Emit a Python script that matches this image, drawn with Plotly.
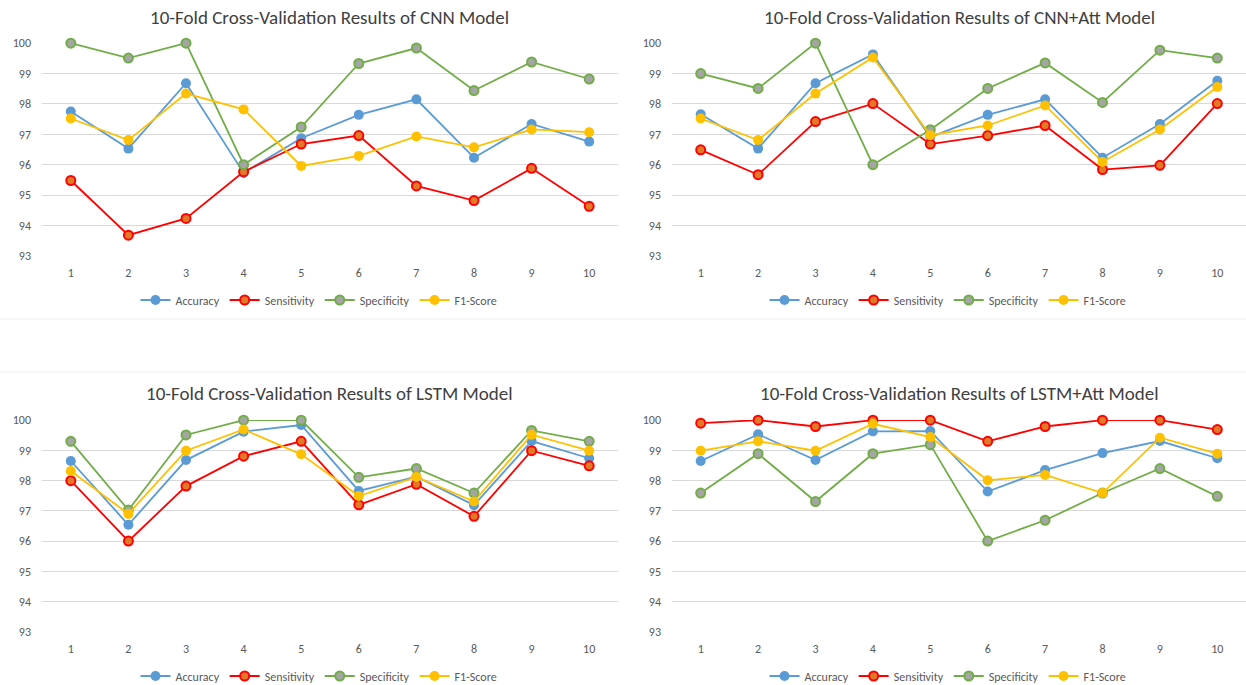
import plotly.graph_objects as go

folds = [1, 2, 3, 4, 5, 6, 7, 8, 9, 10]
metric_names = ["Accuracy", "Sensitivity", "Specificity", "F1-Score"]

titles = [
    "10-Fold Cross-Validation Results of CNN Model",
    "10-Fold Cross-Validation Results of CNN+Att Model",
    "10-Fold Cross-Validation Results of LSTM Model",
    "10-Fold Cross-Validation Results of LSTM+Att Model",
]

# CNN
cnn_accuracy = [97.75, 96.53, 98.68, 95.73, 96.87, 97.64, 98.15, 96.23, 97.34, 96.76]
cnn_sensitivity = [95.48, 93.68, 94.23, 95.77, 96.68, 96.96, 95.30, 94.82, 95.88, 94.63]
cnn_specificity = [100.0, 99.51, 100.0, 96.0, 97.24, 99.33, 99.84, 98.44, 99.38, 98.82]
cnn_f1 = [97.52, 96.81, 98.34, 97.82, 95.96, 96.29, 96.93, 96.57, 97.16, 97.07]

# CNN+Att
cnnatt_accuracy = [97.66, 96.53, 98.68, 99.63, 96.91, 97.64, 98.15, 96.23, 97.34, 98.76]
cnnatt_sensitivity = [96.49, 95.67, 97.42, 98.01, 96.68, 96.96, 97.29, 95.84, 95.98, 98.01]
cnnatt_specificity = [99.0, 98.51, 100.0, 96.0, 97.15, 98.51, 99.35, 98.05, 99.77, 99.51]
cnnatt_f1 = [97.52, 96.81, 98.34, 99.53, 96.97, 97.29, 97.95, 96.09, 97.16, 98.56]

# LSTM
lstm_accuracy = [98.65, 96.54, 98.68, 99.62, 99.84, 97.66, 98.13, 97.19, 99.31, 98.74]
lstm_sensitivity = [98.0, 96.0, 97.82, 98.81, 99.30, 97.20, 97.88, 96.82, 98.99, 98.49]
lstm_specificity = [99.30, 97.03, 99.51, 100.0, 100.0, 98.11, 98.40, 97.59, 99.66, 99.30]
lstm_f1 = [98.32, 96.90, 98.99, 99.69, 98.87, 97.49, 98.12, 97.31, 99.52, 98.99]

# LSTM+Att
lstmatt_accuracy = [98.65, 99.53, 98.68, 99.63, 99.64, 97.64, 98.35, 98.91, 99.31, 98.74]
lstmatt_sensitivity = [99.90, 100.0, 99.79, 100.0, 100.0, 99.30, 99.79, 100.0, 100.0, 99.69]
lstmatt_specificity = [97.59, 98.89, 97.31, 98.89, 99.19, 96.0, 96.69, 97.59, 98.40, 97.48]
lstmatt_f1 = [98.99, 99.30, 98.99, 99.88, 99.44, 98.01, 98.19, 97.59, 99.42, 98.89]

y_ticks = [93, 94, 95, 96, 97, 98, 99, 100]

panels = [
    [cnn_accuracy, cnn_sensitivity, cnn_specificity, cnn_f1],
    [cnnatt_accuracy, cnnatt_sensitivity, cnnatt_specificity, cnnatt_f1],
    [lstm_accuracy, lstm_sensitivity, lstm_specificity, lstm_f1],
    [lstmatt_accuracy, lstmatt_sensitivity, lstmatt_specificity, lstmatt_f1],
]

W, H = 1246, 685
line_colors = ["#5B9BD5", "#FF0000", "#70AD47", "#FFC000"]
fill_colors = ["#5B9BD5", "#E07A28", "#A5A5A5", "#FFC000"]
border_w = [0, 2, 2, 0]
msize = [10, 9, 9, 10]

# pixel geometry of each plot area: (x0, x1, ytop, ybottom)
geo = [
    (42, 618, 43, 256),
    (672, 1246, 43, 256),
    (42, 618, 420, 632),
    (672, 1246, 420, 632),
]
title_y = [18, 18, 393, 393]
legend_y = [300, 300, 676, 676]
legend_dx = -11

FONT = "Carlito, Calibri, Lato, sans-serif"
fig = go.Figure()
layout = dict(
    width=W, height=H,
    margin=dict(l=0, r=0, t=0, b=0, autoexpand=False),
    paper_bgcolor="white", plot_bgcolor="white",
    font=dict(family=FONT, size=12, color="#595959"),
    annotations=[], shapes=[],
)

for p, series in enumerate(panels):
    ax = "" if p == 0 else str(p + 1)
    lg = "legend" if p == 0 else "legend" + str(p + 1)
    x0, x1, yt, yb = geo[p]
    for i, vals in enumerate(series):
        fig.add_trace(go.Scatter(
            x=folds, y=vals, name=metric_names[i], mode="lines+markers",
            xaxis="x" + ax, yaxis="y" + ax, legend=lg, cliponaxis=False,
            line=dict(color=line_colors[i], width=1.8),
            marker=dict(size=msize[i], color=fill_colors[i],
                        line=dict(color=line_colors[i], width=border_w[i])),
        ))
    layout["xaxis" + ax] = dict(
        domain=[x0 / W, x1 / W], range=[0.5, 10.5], anchor="y" + ax,
        tickvals=folds, ticktext=[str(f) for f in folds],
        showgrid=False, zeroline=False, showline=False, ticks="",
        ticklabelstandoff=8, tickfont=dict(size=12, color="#595959"),
        fixedrange=True, automargin=False,
    )
    layout["yaxis" + ax] = dict(
        domain=[1 - yb / H, 1 - yt / H], range=[92.995, 100.005], anchor="x" + ax,
        tickvals=y_ticks, showgrid=True, gridcolor="#D9D9D9", gridwidth=1,
        zeroline=False, showline=False, ticks="", ticklabelstandoff=10,
        tickfont=dict(size=12, color="#595959"), fixedrange=True, automargin=False,
    )
    layout[lg] = dict(
        orientation="h", x=((x0 + x1) / 2 + legend_dx) / W, xanchor="center",
        y=1 - legend_y[p] / H, yanchor="middle",
        font=dict(size=12, color="#595959", family=FONT),
        bgcolor="rgba(0,0,0,0)", itemwidth=30, tracegroupgap=0,
    )
    layout["annotations"].append(dict(
        text=titles[p], xref="paper", yref="paper",
        x=(x0 + x1) / 2 / W, y=1 - title_y[p] / H,
        xanchor="center", yanchor="middle", showarrow=False,
        font=dict(size=19, color="#404040", family=FONT),
    ))

for yy in (319, 372):
    layout["shapes"].append(dict(
        type="line", xref="paper", yref="paper", x0=0, x1=1,
        y0=1 - yy / H, y1=1 - yy / H, line=dict(color="#EFEFEF", width=1),
    ))

fig.update_layout(**layout)
fig.write_html(
    "out.html",
    config={"displayModeBar": False},
    post_script="document.body.style.margin='0';document.body.style.overflow='hidden';",
)
